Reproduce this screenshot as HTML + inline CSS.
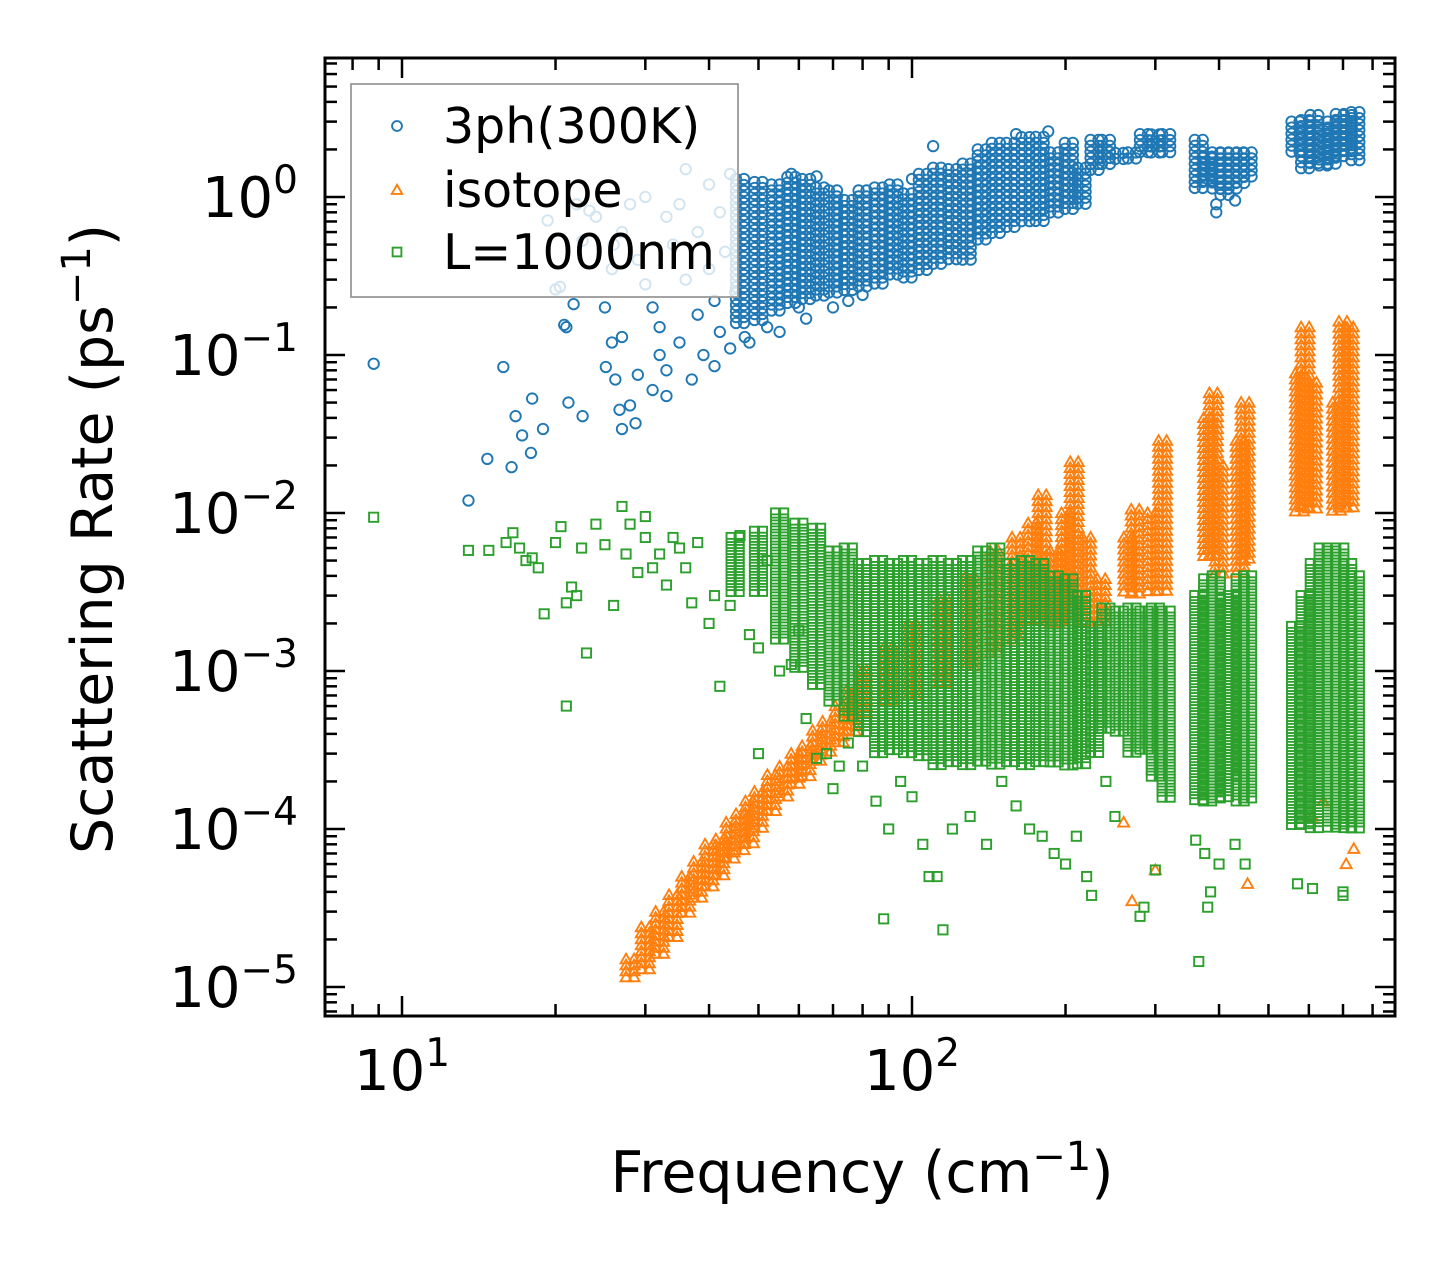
<!DOCTYPE html>
<html><head><meta charset="utf-8">
<style>
html,body{margin:0;padding:0;background:#fff;}
svg{display:block;font-family:"DejaVu Sans","Liberation Sans",sans-serif;}
</style></head>
<body>
<svg id="chart" width="1455" height="1265" viewBox="0 0 1455 1265" xmlns="http://www.w3.org/2000/svg">
<rect width="1455" height="1265" fill="#fff"/>
<g id="marks"></g>
<g id="axes"></g>
</svg>
<script>
// ---- data (frequency cm^-1, rate ps^-1) ----
const xTickValues = [10, 100];
const xTickLabels = ["1", "2"];
const yTickValues = [1, 0.1, 0.01, 0.001, 0.0001, 0.00001];
const yTickLabels = ["0", "\u22121", "\u22122", "\u22123", "\u22124", "\u22125"];
const legendLabels = ["3ph(300K)", "isotope", "L=1000nm"];

const blueFreq = [8.8,13.5,14.7,15.8,16.4,16.7,17.2,18.0,17.9,18.9,19.3,20.4,20.8,21.2,21.7,22.6,22.6,23.3,25.1,25.8,25.8,26.7,27,26.2,28,28.7,27,28,29,30,30,31,31,32,33,33,34,35,35,36,36,37,38,38,39,40,40,41,42,42,43,44,44,45,26,24,22,21,20,25,27,29,32,33,41,47,48,52,55,60,62,70,75,80,58,65,100,110,160,185,395,395,430];
const blueRate = [0.088,0.012,0.022,0.084,0.0195,0.041,0.031,0.053,0.024,0.034,0.71,0.27,0.155,0.05,0.21,0.041,0.53,0.82,0.084,0.35,0.12,0.045,0.034,0.07,0.048,0.037,0.6,0.9,0.4,0.28,1.0,0.2,0.06,0.15,0.75,0.08,0.5,0.12,0.9,0.3,1.5,0.07,0.6,0.18,0.1,1.2,0.35,0.22,0.14,0.8,0.45,0.11,1.4,0.25,0.5,0.75,0.9,0.15,0.26,0.2,0.13,0.075,0.1,0.055,0.085,0.13,0.12,0.15,0.14,0.2,0.17,0.2,0.22,0.24,1.4,1.35,1.3,2.1,2.5,2.6,0.8,0.9,0.95];
const blueBandFreq = [46,50,54,58,62,66,70,75,80,86,92,98,105,112,120,128,137,146,156,167,178,190,203,215,228,240,255,270,285,300,315,365,380,395,410,425,440,455,565,590,615,640,665,690,715,740];
const blueBandLo = [0.15,0.16,0.18,0.2,0.22,0.22,0.23,0.25,0.27,0.28,0.3,0.3,0.33,0.35,0.4,0.4,0.5,0.55,0.6,0.65,0.7,0.75,0.8,0.9,1.4,1.5,1.6,1.7,1.8,1.9,1.9,1.1,1.2,1.1,1.0,1.1,1.2,1.3,1.8,1.5,1.6,1.5,1.6,1.7,1.8,1.6];
const blueBandHi = [1.3,1.3,1.2,1.4,1.3,1.2,1.1,1.0,1.1,1.2,1.2,1.1,1.4,1.6,1.5,1.7,2.0,2.3,2.2,2.5,2.4,2.0,2.2,1.6,2.3,2.4,1.9,2.0,2.5,2.6,2.5,2.4,1.8,2.0,1.9,2.0,1.9,2.0,3.0,3.2,3.3,2.8,3.0,3.5,3.3,3.6];

const orangeFreq = [300,270,455,710,735,260,610,640];
const orangeRate = [5.5e-5,3.5e-5,4.5e-5,6e-5,7.5e-5,1.1e-4,1.2e-4,1.5e-4];
const orangeBandFreq = [28,30,32,34,36,38,40,42,44,46,48,50,53,56,59,62,65,68,72,76,80,90,100,115,130,145,160,172,180,190,200,208,220,235,265,274,295,310,380,390,400,440,450,575,590,610,680,700,720];
const orangeBandLo = [1.1e-5,1.2e-5,1.6e-5,2e-5,2.8e-5,3.5e-5,4e-5,5e-5,6e-5,7e-5,8e-5,1e-4,1.2e-4,1.5e-4,1.8e-4,2.1e-4,2.5e-4,3e-4,3.5e-4,4e-4,5e-4,6e-4,7e-4,8e-4,1e-3,1.2e-3,1.5e-3,2e-3,2e-3,2e-3,2e-3,2.5e-3,2e-3,2e-3,3e-3,3e-3,3e-3,3e-3,5e-3,5e-3,4e-3,4e-3,5e-3,1e-2,1e-2,1e-2,1e-2,1e-2,1e-2];
const orangeBandHi = [1.5e-5,2.5e-5,3e-5,4e-5,5e-5,6.5e-5,8e-5,9e-5,1.1e-4,1.3e-4,1.5e-4,1.8e-4,2.2e-4,2.6e-4,3e-4,3.5e-4,4.2e-4,5e-4,6e-4,8e-4,1e-3,1.5e-3,2e-3,3e-3,4e-3,6e-3,7e-3,9e-3,1.3e-2,6e-3,1e-2,2.2e-2,7e-3,4e-3,7e-3,1.1e-2,1e-2,3e-2,4e-2,6e-2,2e-2,3e-2,5e-2,8e-2,1.5e-1,7e-2,5e-2,1.7e-1,1.5e-1];

const greenFreq = [8.8,13.5,14.8,16,16.5,17,17.5,18,18.5,19,20,20.5,21,21,21.5,22,22.5,23,24,25,26,27,27.5,28,29,30,30,31,32,33,34,35,36,37,38,40,41,42,44,46,48,50,50,52,55,58,60,62,65,68,70,72,75,80,85,88,90,95,100,105,108,112,115,120,130,140,150,160,170,180,190,200,210,220,225,240,250,280,285,300,360,365,375,380,385,400,430,450,570,610,700,700];
const greenRate = [0.0094,0.0058,0.0058,0.0065,0.0075,0.006,0.005,0.0052,0.0045,0.0023,0.0065,0.0082,0.0027,0.0006,0.0034,0.003,0.006,0.0013,0.0085,0.0063,0.0026,0.011,0.0055,0.0085,0.0042,0.0095,0.007,0.0045,0.0055,0.0035,0.007,0.006,0.0045,0.0027,0.0065,0.002,0.003,0.0008,0.0026,0.0072,0.0017,0.0014,0.0003,0.005,0.001,0.0011,0.0018,0.0005,0.00028,0.0003,0.00018,0.00025,0.00035,0.00025,0.00015,0.000027,0.0001,0.0002,0.00016,0.00008,0.00005,0.00005,0.000023,0.0001,0.00012,0.00008,0.0002,0.00014,0.0001,0.00009,0.00007,0.00006,0.00009,0.00005,0.000038,0.0002,0.00012,0.000028,0.000032,0.000055,0.000085,0.0000145,0.00007,0.000032,0.00004,0.00006,0.00008,0.00006,0.000045,0.000042,0.00004,0.000038];
const greenBandFreq = [45,50,55,60,65,70,75,80,86,92,98,105,112,120,128,137,146,156,167,178,190,203,215,228,240,255,270,285,300,315,365,380,395,410,425,440,455,565,590,615,640,665,690,715,740];
const greenBandLo = [0.003,0.003,0.0015,0.001,0.0008,0.0006,0.0005,0.0004,0.0003,0.0003,0.0003,0.00028,0.00025,0.00025,0.00025,0.00025,0.00025,0.00025,0.00025,0.00025,0.00025,0.00025,0.00025,0.0003,0.0004,0.0004,0.0003,0.0003,0.0002,0.00015,0.00015,0.00015,0.00015,0.00015,0.0002,0.00015,0.00015,0.0001,0.0001,0.0001,0.00015,0.0001,0.0001,0.0001,0.0001];
const greenBandHi = [0.007,0.008,0.01,0.009,0.008,0.006,0.006,0.005,0.005,0.005,0.005,0.005,0.005,0.005,0.005,0.006,0.006,0.005,0.005,0.005,0.004,0.004,0.003,0.002,0.0025,0.0025,0.0025,0.0025,0.0025,0.0025,0.003,0.004,0.004,0.003,0.003,0.004,0.004,0.002,0.003,0.005,0.006,0.006,0.006,0.005,0.004];

// ---- axes geometry ----
const L = 325, R = 1395, T = 58, B = 1016;
function xs(f){ return 402 + 510 * Math.log10(f / 10); }
function ys(r){ return 197 - 158 * Math.log10(r); }
const NS = "http://www.w3.org/2000/svg";
const marks = document.getElementById('marks');
const axes = document.getElementById('axes');
function mk(tag, attrs, parent){
  const e = document.createElementNS(NS, tag);
  for (const k in attrs) e.setAttribute(k, attrs[k]);
  parent.appendChild(e);
  return e;
}
const C_BLUE = '#1f77b4', C_OR = '#ff7f0e', C_GR = '#2ca02c';
function marker(kind, x, y, color, parent, name, s){
  s = s || 1;
  let e;
  if (kind === 'circle') {
    e = mk('circle', {cx:x, cy:y, r:5.2*s, fill:'none', stroke:color, 'stroke-width':1.9}, parent);
  } else if (kind === 'tri') {
    const h = 5.5*s;
    e = mk('polygon', {points:`${x},${y-h} ${x+h},${y+h*0.75} ${x-h},${y+h*0.75}`, fill:'none', stroke:color, 'stroke-width':1.9}, parent);
  } else {
    const h = 4.6*s;
    e = mk('rect', {x:x-h, y:y-h, width:2*h, height:2*h, fill:'none', stroke:color, 'stroke-width':1.9}, parent);
  }
  
  
  return e;
}
const clip = mk('clipPath', {id:'pc'}, marks);
mk('rect', {x:L, y:T, width:R-L, height:B-T}, clip);
marks.setAttribute('clip-path', 'url(#pc)');

function drawSeries(kind, color, fr, rt, bf, blo, bhi, nm){
  const g = mk('g', {}, marks);
  
  
  for (let i = 0; i < bf.length; i++) {
    const x0 = xs(bf[i]);
    const y1 = ys(blo[i]), y2 = ys(bhi[i]);
    for (let dx = -4; dx <= 4; dx += 8) {
      const off = (i % 2) * 3;
      for (let y = y2 + off; y <= y1 + 0.1; y += 6) {
        marker(kind, x0 + dx, y, color, g, nm + '-point');
      }
    }
  }
  for (let i = 0; i < fr.length; i++) {
    marker(kind, xs(fr[i]), ys(rt[i]), color, g, nm + '-point');
  }
}
drawSeries('circle', C_BLUE, blueFreq, blueRate, blueBandFreq, blueBandLo, blueBandHi, 'three-phonon');
drawSeries('tri', C_OR, orangeFreq, orangeRate, orangeBandFreq, orangeBandLo, orangeBandHi, 'isotope');
drawSeries('square', C_GR, greenFreq, greenRate, greenBandFreq, greenBandLo, greenBandHi, 'boundary');

// ---- frame + ticks ----
const frame = mk('rect', {x:L, y:T, width:R-L, height:B-T, fill:'none', stroke:'#000', 'stroke-width':3}, axes);


function tick(x1,y1,x2,y2){ mk('line',{x1,y1,x2,y2,stroke:'#000','stroke-width':2.5}, axes); }
for (let d = 0.1; d <= 100; d *= 10) {
  for (let m = 1; m <= 9; m++) {
    const val = d * m * 10;
    const x = xs(val);
    if (x < L || x > R) continue;
    const len = m === 1 ? 20 : 12;
    tick(x, B, x, B - len); tick(x, T, x, T + len);
  }
}
for (let e = -6; e <= 0; e++) {
  for (let m = 1; m <= 9; m++) {
    const v = m * Math.pow(10, e);
    const y = ys(v);
    if (y < T || y > B) continue;
    const len = m === 1 ? 20 : 12;
    tick(L, y, L + len, y); tick(R, y, R - len, y);
  }
}
// tick labels
for (let i = 0; i < xTickValues.length; i++) {
  const t = mk('text', {x:xs(xTickValues[i]), y:1090, 'text-anchor':'middle', 'font-size':56, fill:'#000'}, axes);
  
  
  t.innerHTML = '10<tspan font-size="39" dy="-24">' + xTickLabels[i] + '</tspan>';
}
for (let i = 0; i < yTickValues.length; i++) {
  const t = mk('text', {x:298, y:ys(yTickValues[i]) + 20, 'text-anchor':'end', 'font-size':56, fill:'#000'}, axes);
  
  
  t.innerHTML = '10<tspan font-size="39" dy="-24">' + yTickLabels[i] + '</tspan>';
}
// axis titles
const xt = mk('text', {x:862, y:1192, 'text-anchor':'middle', 'font-size':57, fill:'#000'}, axes);


xt.innerHTML = 'Frequency (cm<tspan font-size="40" dy="-22">\u22121</tspan><tspan dy="22">)</tspan>';
const yt = mk('text', {x:0, y:0, 'text-anchor':'middle', 'font-size':57, fill:'#000', transform:'translate(112,539) rotate(-90)'}, axes);


yt.innerHTML = 'Scattering Rate (ps<tspan font-size="40" dy="-22">\u22121</tspan><tspan dy="22">)</tspan>';

// legend
const lg = mk('g', {}, axes);


mk('rect', {x:351, y:84, width:387, height:213, fill:'rgba(255,255,255,0.8)', stroke:'#999', 'stroke-width':1.8}, lg);
const kinds = ['circle','tri','square'], cols = [C_BLUE, C_OR, C_GR], ly = [126,190,252];
for (let i = 0; i < 3; i++) {
  marker(kinds[i], 397, ly[i], cols[i], lg, 'legend-marker', 0.95);
  const t = mk('text', {x:443, y:ly[i] + 17, 'font-size':49, fill:'#000'}, lg);
  
  
  t.textContent = legendLabels[i];
}
</script>
</body></html>
